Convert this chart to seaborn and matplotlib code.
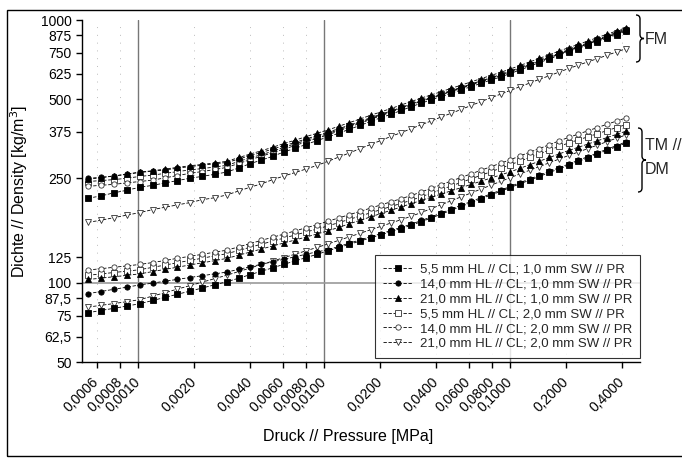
import numpy as np
import pandas as pd
import matplotlib
matplotlib.use("Agg")
import matplotlib.pyplot as plt
import seaborn as sns
from matplotlib.lines import Line2D
from matplotlib.path import Path
from matplotlib.patches import PathPatch, Rectangle
from matplotlib.ticker import NullLocator, FixedLocator, FixedFormatter

# ---------------- data ----------------
pressure = [0.00054, 0.00063, 0.00074, 0.00087, 0.00102, 0.0012, 0.0014, 0.00163, 0.0019, 0.0022,
            0.0026, 0.003, 0.0035, 0.004, 0.0046, 0.0053, 0.0061, 0.007, 0.008, 0.0092,
            0.0105, 0.012, 0.0137, 0.0156, 0.0178, 0.0202, 0.023, 0.026, 0.0295, 0.0334,
            0.0378, 0.0428, 0.0484, 0.0547, 0.0618, 0.0698, 0.0788, 0.089, 0.1005, 0.1135,
            0.128, 0.144, 0.163, 0.184, 0.207, 0.233, 0.262, 0.295, 0.332, 0.374, 0.42]

# FM group (upper curves)
fm_sq_filled = [210, 214, 220, 225, 231, 235, 240, 245, 250, 254, 259, 264, 274, 284, 293, 303, 315, 325, 336, 348,
                359, 371, 384, 397, 411, 425, 438, 453, 468, 483, 497, 511, 527, 542, 558, 574, 591, 607, 626, 646,
                667, 689, 711, 735, 758, 779, 804, 828, 854, 878, 905]
fm_circ_filled = [250, 252, 255, 259, 263, 266, 269, 273, 277, 280, 284, 287, 296, 305, 313, 323, 333, 342, 353, 363,
                  374, 386, 398, 411, 425, 438, 451, 465, 480, 495, 509, 524, 540, 554, 571, 587, 603, 620, 639, 660,
                  680, 702, 725, 748, 772, 794, 819, 844, 871, 897, 925]
fm_tri_filled = [248, 251, 255, 259, 264, 267, 271, 275, 279, 282, 286, 290, 300, 309, 318, 328, 339, 349, 360, 371,
                 382, 394, 407, 420, 434, 447, 461, 475, 490, 505, 519, 534, 550, 565, 582, 598, 615, 632, 651, 672,
                 693, 715, 738, 762, 785, 807, 832, 857, 883, 908, 935]
fm_sq_open = [243, 245, 247, 250, 254, 257, 261, 265, 269, 272, 276, 280, 290, 299, 307, 317, 328, 338, 348, 359,
              370, 382, 395, 408, 422, 435, 449, 463, 478, 493, 507, 521, 537, 552, 568, 584, 601, 617, 636, 657,
              677, 699, 721, 744, 767, 789, 813, 838, 864, 889, 915]
fm_circ_open = [233, 235, 237, 240, 243, 246, 251, 256, 261, 265, 270, 275, 285, 294, 303, 313, 323, 333, 344, 355,
                366, 378, 392, 404, 419, 432, 446, 461, 476, 491, 504, 519, 535, 549, 566, 581, 598, 614, 633, 654,
                674, 696, 718, 741, 765, 786, 810, 835, 861, 885, 912]
fm_tri_open = [170, 173, 177, 181, 185, 190, 194, 198, 202, 207, 211, 216, 224, 231, 238, 247, 255, 263, 271, 280,
               290, 301, 312, 324, 336, 348, 361, 373, 386, 400, 413, 428, 442, 457, 473, 489, 506, 522, 540, 558,
               576, 595, 614, 634, 654, 673, 693, 713, 734, 756, 778]

# TM / DM group (lower curves)
tm_sq_filled = [77.0, 78.5, 80.0, 81.6, 83.3, 85.7, 88.1, 90.5, 93.0, 95.5, 98.4, 101.0, 104.3, 107.4, 110.7, 114.1,
                117.7, 121.2, 124.7, 128.5, 132.4, 136.2, 140.2, 144.2, 148.3, 152.4, 156.7, 161.0, 165.6, 171.0,
                176.6, 182.7, 189.0, 195.4, 202.0, 208.8, 215.8, 222.8, 230.6, 238.4, 246.0, 254.1, 263.0, 271.6,
                280.5, 289.7, 299.2, 309.0, 319.2, 329.6, 340.4]
tm_circ_filled = [91.0, 92.7, 94.5, 96.3, 98.2, 99.8, 101.5, 103.1, 104.8, 106.4, 108.3, 109.9, 112.7, 115.1, 117.7,
                  120.2, 123.0, 125.7, 128.5, 131.3, 133.7, 137.6, 141.6, 145.6, 149.8, 153.9, 158.3, 162.6, 167.3,
                  172.7, 178.4, 184.5, 190.9, 197.4, 204.0, 210.9, 218.0, 225.0, 232.9, 240.8, 248.5, 256.6, 265.6,
                  274.3, 283.3, 292.6, 302.2, 312.1, 322.4, 332.9, 343.8]
tm_tri_filled = [103.0, 104.2, 105.5, 106.8, 108.2, 110.4, 112.6, 114.7, 117.0, 119.1, 121.6, 123.9, 127.6, 130.9,
                 134.5, 138.1, 141.9, 145.6, 149.4, 153.5, 157.8, 162.6, 167.8, 172.9, 178.2, 183.5, 189.1, 194.5,
                 200.3, 206.0, 211.8, 217.8, 224.1, 230.4, 236.9, 243.6, 250.4, 257.4, 264.6, 273.0, 281.6, 290.3,
                 299.9, 309.5, 318.9, 328.0, 337.3, 347.1, 357.0, 367.3, 377.6]
tm_sq_open = [106.9, 108.1, 109.5, 110.8, 112.2, 114.6, 116.9, 119.3, 121.7, 124.0, 126.8, 129.1, 133.0, 136.5, 140.3,
              144.1, 148.1, 152.1, 156.1, 160.3, 164.7, 169.5, 174.5, 179.5, 184.7, 189.9, 195.4, 200.7, 206.3, 212.8,
              219.5, 226.5, 233.8, 241.2, 248.8, 256.6, 264.7, 272.9, 281.5, 290.8, 300.3, 309.7, 320.2, 330.7,
              340.7, 349.9, 359.4, 369.3, 379.3, 389.8, 399.9]
tm_circ_open = [111.9, 113.2, 114.6, 116.0, 117.5, 119.5, 121.7, 124.0, 126.2, 128.3, 131.0, 133.1, 137.3, 141.0,
                145.1, 149.1, 153.4, 157.7, 162.0, 166.5, 171.6, 176.6, 181.8, 187.0, 192.5, 197.9, 203.6, 209.1,
                215.0, 221.9, 229.0, 236.4, 244.1, 251.9, 259.9, 268.1, 276.6, 285.2, 294.2, 304.2, 314.4, 324.3,
                335.6, 346.9, 357.7, 368.1, 378.8, 389.8, 401.0, 412.7, 424.0]
tm_tri_open = [80.9, 82.1, 83.4, 84.8, 86.3, 89.1, 91.8, 94.7, 97.6, 100.5, 103.9, 106.9, 110.6, 113.8, 117.4, 121.0,
               124.8, 128.6, 132.4, 136.5, 140.6, 145.1, 149.7, 154.3, 159.2, 164.0, 169.1, 174.0, 179.3, 185.3,
               191.7, 198.5, 205.4, 212.5, 219.8, 227.4, 235.1, 243.1, 251.4, 259.9, 268.4, 277.0, 286.4, 296.0,
               305.3, 314.6, 324.2, 334.2, 344.4, 355.2, 365.6]

series_labels = ["5,5 mm HL // CL; 1,0 mm SW // PR",
                 "14,0 mm HL // CL; 1,0 mm SW // PR",
                 "21,0 mm HL // CL; 1,0 mm SW // PR",
                 "5,5 mm HL // CL; 2,0 mm SW // PR",
                 "14,0 mm HL // CL; 2,0 mm SW // PR",
                 "21,0 mm HL // CL; 2,0 mm SW // PR"]

y_ticks = [50, 62.5, 75, 87.5, 100, 125, 250, 375, 500, 625, 750, 875, 1000]
y_ticklabels = ["50", "62,5", "75", "87,5", "100", "125", "250", "375", "500", "625", "750", "875", "1000"]
x_ticks = [0.0006, 0.0008, 0.001, 0.002, 0.004, 0.006, 0.008, 0.01, 0.02, 0.04, 0.06, 0.08, 0.1, 0.2, 0.4]
x_ticklabels = ["0,0006", "0,0008", "0,0010", "0,0020", "0,0040", "0,0060", "0,0080", "0,0100",
                "0,0200", "0,0400", "0,0600", "0,0800", "0,1000", "0,2000", "0,4000"]

# ---------------- styles ----------------
styles = [
    dict(marker="s", mfc="black", mec="black"),
    dict(marker="o", mfc="black", mec="black"),
    dict(marker="^", mfc="black", mec="black"),
    dict(marker="s", mfc="white", mec="#333333"),
    dict(marker="o", mfc="white", mec="#333333"),
    dict(marker="v", mfc="white", mec="#333333"),
]

fm_series = [fm_sq_filled, fm_circ_filled, fm_tri_filled, fm_sq_open, fm_circ_open, fm_tri_open]
tm_series = [tm_sq_filled, tm_circ_filled, tm_tri_filled, tm_sq_open, tm_circ_open, tm_tri_open]

rows = []
for grp, group_series in (("FM", fm_series), ("TM", tm_series)):
    for i, vals in enumerate(group_series):
        for p, v in zip(pressure, vals):
            rows.append(dict(pressure=p, density=v, series=i, group=grp))
df = pd.DataFrame(rows)

sns.set_theme(style="white")
plt.rcParams["font.family"] = ["Liberation Sans", "DejaVu Sans"]

W, H = 682, 461
fig = plt.figure(figsize=(W / 100, H / 100), dpi=100)
ax = fig.add_axes([82 / W, 1 - 362 / H, 558 / W, 342 / H])

ax.set_xscale("log")
ax.set_yscale("log")
ax.set_xlim(0.0005, 0.5)
ax.set_ylim(50, 1000)

# grid lines
for gx in [0.0006, 0.0008, 0.002, 0.004, 0.006, 0.008, 0.02, 0.04, 0.06, 0.08, 0.2, 0.4]:
    ax.axvline(gx, color="#bbbbbb", lw=0.7, ls=(0, (1, 7)), zorder=0)
for gx in [0.001, 0.01, 0.1]:
    ax.axvline(gx, color="#777777", lw=1.0, zorder=0)
ax.axhline(100, color="#999999", lw=1.2, zorder=0)

order = [3, 4, 5, 0, 1, 2]
for grp in ("TM", "FM"):
    for i in order:
        sub = df[(df.group == grp) & (df.series == i)]
        st = styles[i]
        sns.lineplot(data=sub, x="pressure", y="density", ax=ax, color="black",
                     linewidth=0.6, linestyle=(0, (4, 2)), marker=st["marker"],
                     markersize=3.8, markerfacecolor=st["mfc"], markeredgecolor=st["mec"],
                     markeredgewidth=0.6, legend=False, zorder=3 if st["mfc"] == "black" else 2)

# axes formatting
for s in ("top", "right"):
    ax.spines[s].set_visible(False)
for s in ("left", "bottom"):
    ax.spines[s].set_color("black")
    ax.spines[s].set_linewidth(1.0)

ax.yaxis.set_major_locator(FixedLocator(y_ticks))
ax.yaxis.set_major_formatter(FixedFormatter(y_ticklabels))
ax.yaxis.set_minor_locator(NullLocator())
ax.xaxis.set_major_locator(FixedLocator(x_ticks))
ax.xaxis.set_major_formatter(FixedFormatter(x_ticklabels))
ax.xaxis.set_minor_locator(NullLocator())
ax.tick_params(axis="both", which="major", direction="out", length=4, width=1, color="black",
               labelsize=10, labelcolor="black", left=True, bottom=True)
ax.tick_params(axis="x", pad=9)
for lab in ax.get_xticklabels():
    lab.set_rotation(45)
    lab.set_ha("right")
    lab.set_va("center")
    lab.set_rotation_mode("anchor")

ax.set_xlabel("Druck // Pressure [MPa]", fontsize=11.5, color="black")
ax.xaxis.set_label_coords((348 - 82) / 558, -(429 - 362) / 342)
ax.set_ylabel("Dichte // Density [kg/m$^3$]", fontsize=11.5, color="black")
ax.yaxis.set_label_coords(-(82 - 30) / 558, 0.5)

# legend
handles = [Line2D([], [], color="black", lw=0.6, ls=(0, (4, 2)), marker=st["marker"], markersize=3.8,
                  markerfacecolor=st["mfc"], markeredgecolor=st["mec"], markeredgewidth=0.6) for st in styles]
leg = ax.legend(handles, series_labels, loc="lower right", bbox_to_anchor=(1.0, 0.012),
                borderaxespad=0, frameon=True, fancybox=False, fontsize=9.5, handlelength=2.3,
                handletextpad=0.5, labelspacing=0.2, borderpad=0.6)
leg.get_frame().set_edgecolor("black")
leg.get_frame().set_linewidth(0.8)


# braces and group labels (figure pixel coordinates from top-left)
def brace(x, ytop, ybot, w):
    ym = (ytop + ybot) / 2
    xm = x + w * 0.5
    xr = x + w
    r = w * 0.5
    pts = [(x, ytop), (xm, ytop), (xm, ytop + r), (xm, ym - r), (xm, ym), (xr, ym),
           (xm, ym), (xm, ym + r), (xm, ybot - r), (xm, ybot), (x, ybot)]
    codes = [Path.MOVETO, Path.CURVE3, Path.CURVE3, Path.LINETO, Path.CURVE3, Path.CURVE3,
             Path.CURVE3, Path.CURVE3, Path.LINETO, Path.CURVE3, Path.CURVE3]
    verts = [(px / W, 1 - py / H) for px, py in pts]
    fig.add_artist(PathPatch(Path(verts, codes), transform=fig.transFigure, fill=False,
                             lw=1.0, edgecolor="black"))


brace(636, 15, 62, 8)
fig.text(645 / W, 1 - 40 / H, "FM", fontsize=11.5, va="center", ha="left")
brace(638, 128, 192, 8)
fig.text(645 / W, 1 - 145 / H, "TM //", fontsize=11.5, va="center", ha="left")
fig.text(645 / W, 1 - 169 / H, "DM", fontsize=11.5, va="center", ha="left")

# outer frame
fig.add_artist(Rectangle((7 / W, 5 / H), (W + 5 - 7) / W, (H - 10 - 5) / H, transform=fig.transFigure,
                         fill=False, lw=1.0, edgecolor="black"))

fig.savefig("out.png", dpi=100)
